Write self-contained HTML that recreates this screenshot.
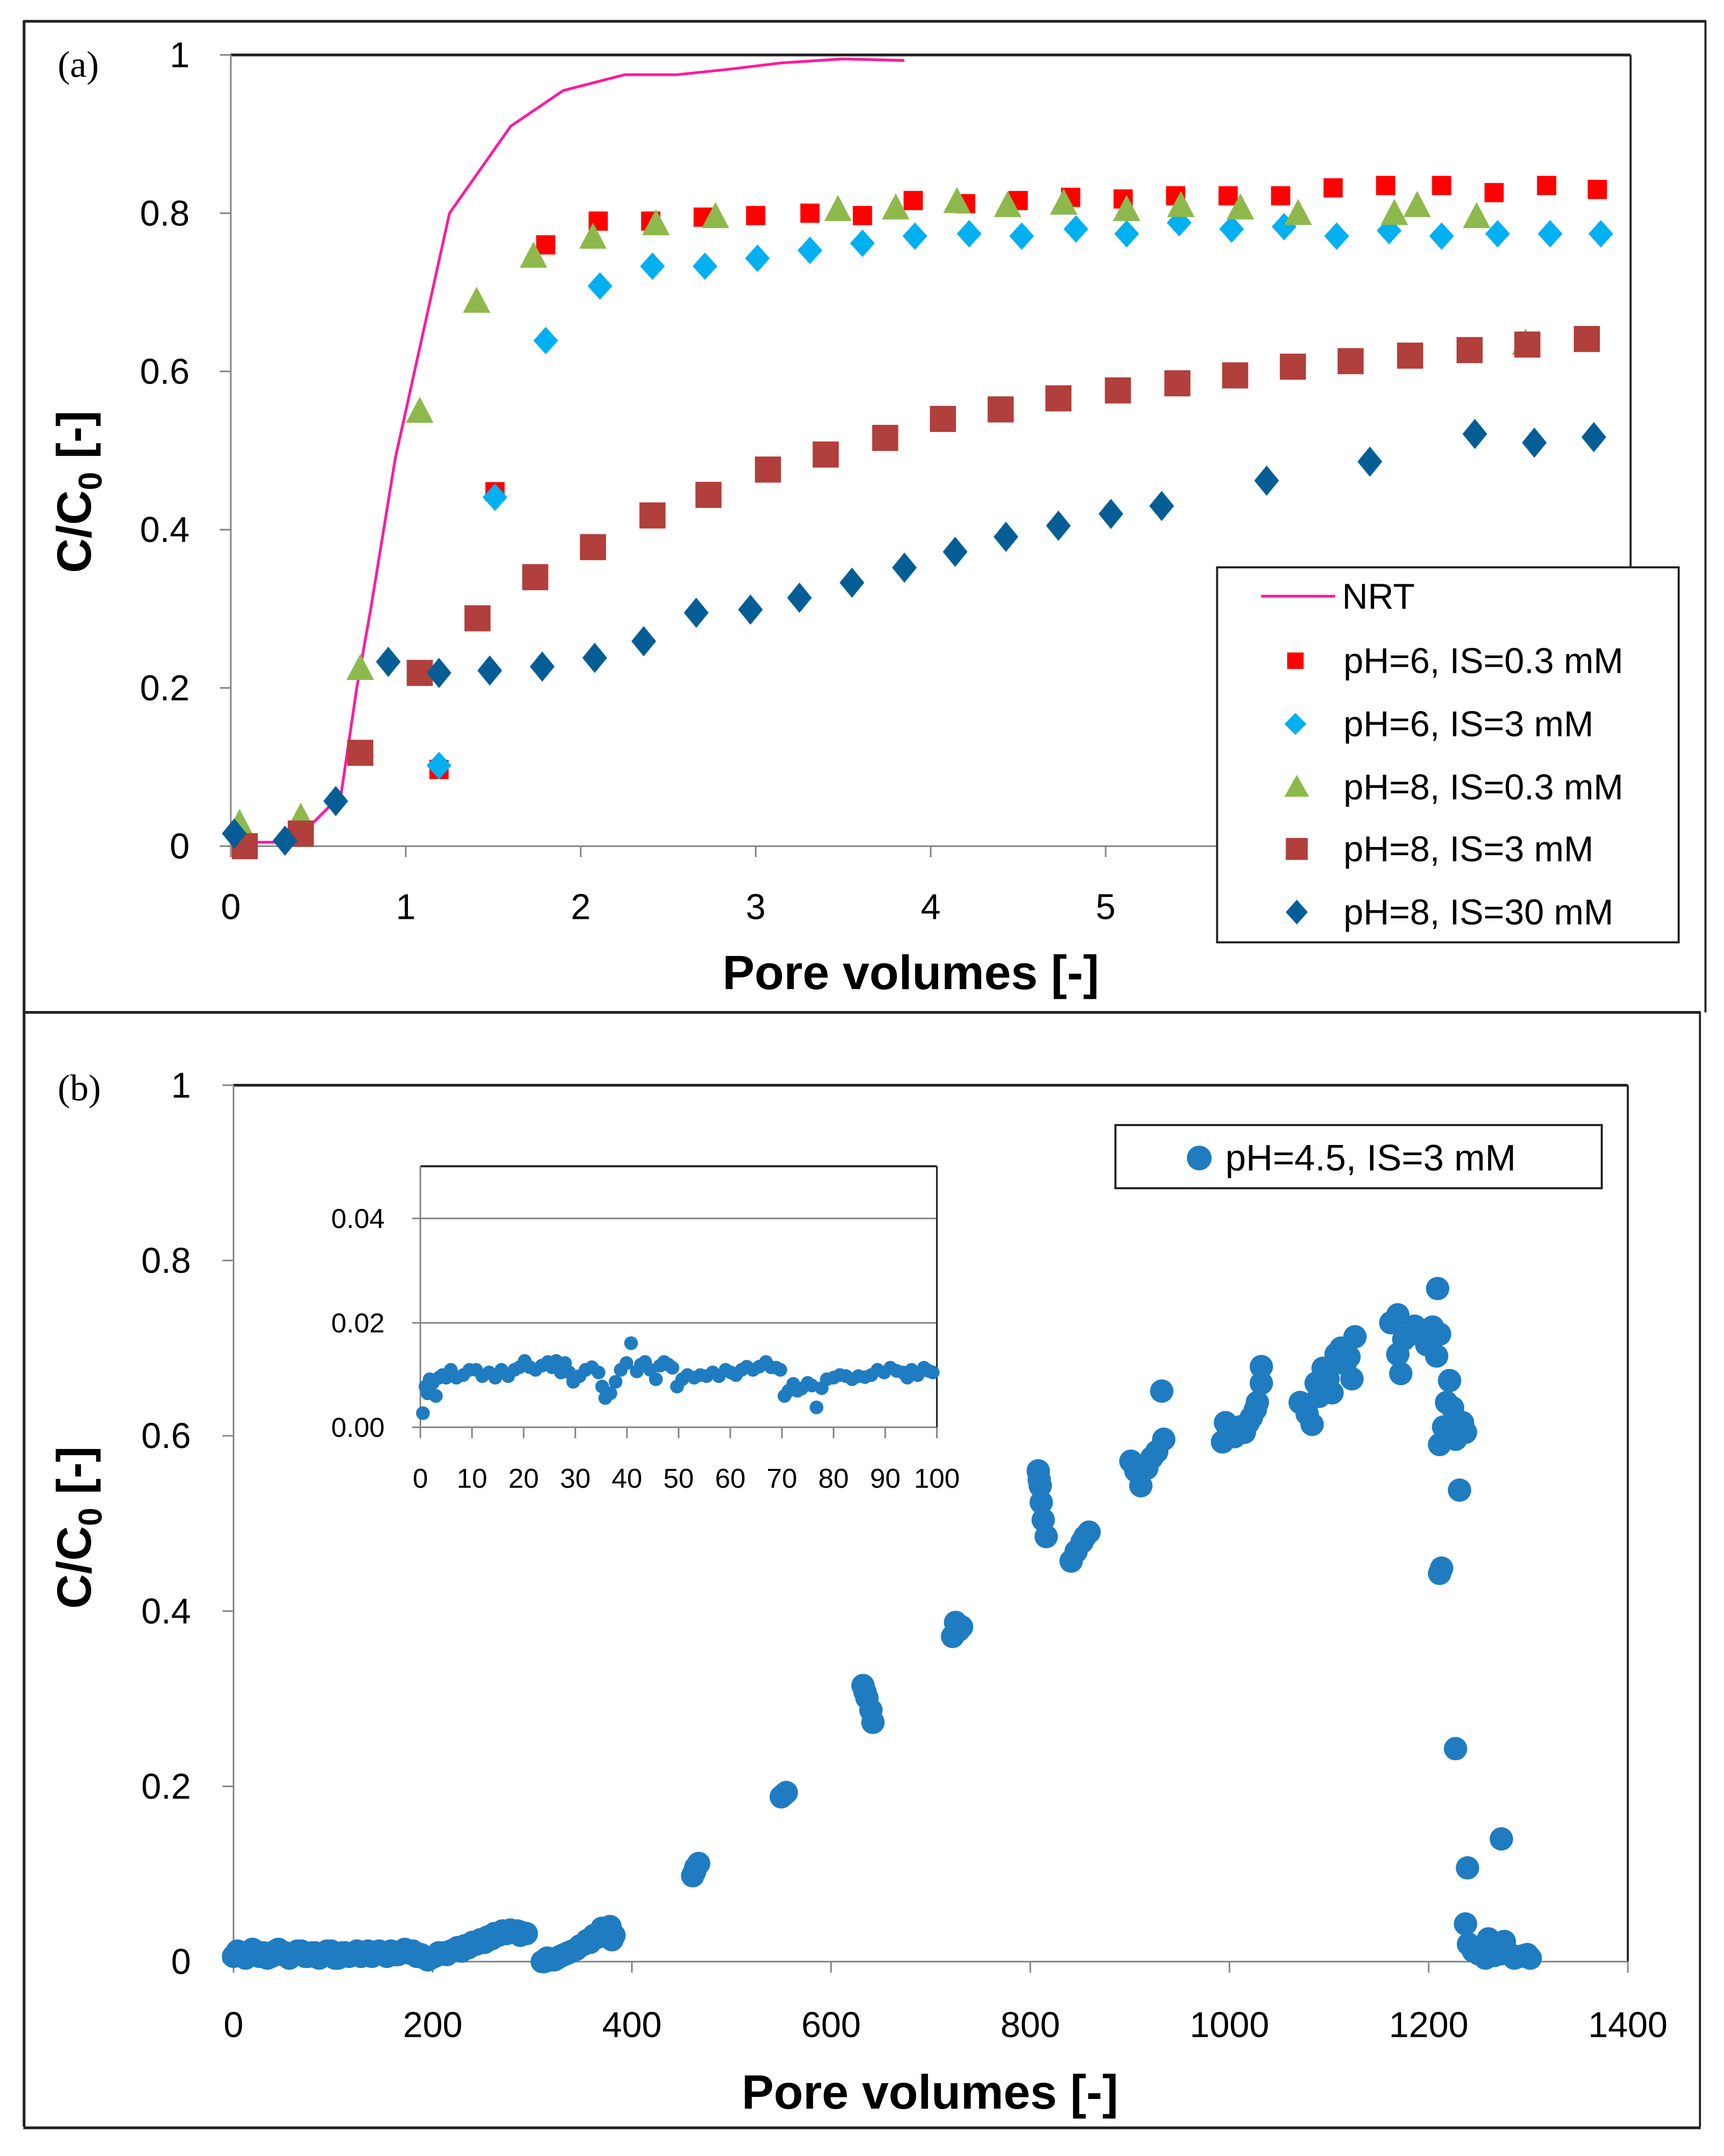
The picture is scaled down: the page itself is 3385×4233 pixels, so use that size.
<!DOCTYPE html>
<html><head><meta charset="utf-8"><style>
html,body{margin:0;padding:0;background:#fff}
svg{display:block}
text{font-family:"Liberation Sans",sans-serif;fill:#000}
</style></head><body>
<svg id="fig" width="3385" height="4233" viewBox="0 0 1255 1569.5" preserveAspectRatio="none" xmlns="http://www.w3.org/2000/svg">
<rect x="0" y="0" width="1255" height="1569.5" fill="#fff"/>
<g>
<line x1="17" y1="15.5" x2="1242" y2="15.5" stroke="#222" stroke-width="2"/>
<line x1="17.5" y1="15" x2="17.5" y2="1548" stroke="#222" stroke-width="2"/>
<line x1="1241.5" y1="15" x2="1241.5" y2="737" stroke="#222" stroke-width="1.5"/>
<line x1="17" y1="737" x2="1238" y2="737" stroke="#222" stroke-width="2"/>
<line x1="1237.5" y1="737" x2="1237.5" y2="1548" stroke="#222" stroke-width="1.5"/>
<line x1="17" y1="1549" x2="1238" y2="1549" stroke="#222" stroke-width="2"/>
</g>
<text x="42" y="56" style="font-family:'Liberation Serif',serif;font-size:27px">(a)</text>
<text x="42" y="801" style="font-family:'Liberation Serif',serif;font-size:27px">(b)</text>
<g id="pa"></g>
<g id="pb"></g>
<g id="pin"></g>
</svg>
<script>
// ---------- Panel (a) data ----------
const aXTicks = [0,1,2,3,4,5,6,7];
const aYTicks = [0,0.2,0.4,0.6,0.8,1];
const aYTickLabels = ["0","0.2","0.4","0.6","0.8","1"];
const nrtX = [0,0.3,0.45,0.63,0.72,0.8,0.94,1.05,1.25,1.6,1.9,2.25,2.55,2.85,3.15,3.5,3.85];
const nrtY = [0.005,0.005,0.025,0.065,0.2,0.3,0.49,0.6,0.8,0.91,0.955,0.975,0.975,0.982,0.99,0.995,0.993];
const ph6is03X = [1.19,1.51,1.8,2.1,2.4,2.7,3.0,3.31,3.61,3.9,4.2,4.5,4.8,5.1,5.4,5.7,6.0,6.3,6.6,6.92,7.22,7.52,7.81];
const ph6is03Y = [0.097,0.448,0.76,0.79,0.79,0.795,0.797,0.8,0.797,0.816,0.812,0.816,0.82,0.818,0.822,0.822,0.822,0.832,0.835,0.835,0.826,0.835,0.83];
const ph6is3X = [1.19,1.51,1.8,2.11,2.41,2.71,3.01,3.31,3.61,3.91,4.22,4.52,4.83,5.12,5.42,5.72,6.02,6.32,6.62,6.92,7.24,7.54,7.83];
const ph6is3Y = [0.102,0.441,0.639,0.708,0.733,0.733,0.743,0.753,0.762,0.771,0.774,0.771,0.78,0.774,0.788,0.78,0.783,0.771,0.778,0.771,0.774,0.774,0.774];
const ph8is03X = [0.05,0.4,0.74,1.08,1.405,1.73,2.07,2.43,2.77,3.47,3.8,4.15,4.44,4.76,5.12,5.43,5.77,6.1,6.65,6.78,7.12,7.4];
const ph8is03Y = [0.028,0.036,0.224,0.549,0.688,0.745,0.769,0.786,0.795,0.804,0.806,0.814,0.809,0.812,0.804,0.809,0.806,0.799,0.799,0.809,0.795,0.635];
const ph8is3X = [0.08,0.4,0.74,1.08,1.41,1.74,2.07,2.41,2.73,3.07,3.4,3.74,4.07,4.4,4.73,5.07,5.41,5.74,6.07,6.4,6.74,7.08,7.41,7.75];
const ph8is3Y = [0,0.016,0.118,0.219,0.288,0.34,0.378,0.418,0.444,0.476,0.495,0.516,0.54,0.552,0.566,0.576,0.585,0.595,0.606,0.613,0.62,0.627,0.634,0.641];
const ph8is30X = [0.02,0.31,0.6,0.9,1.19,1.48,1.78,2.08,2.36,2.66,2.97,3.25,3.55,3.85,4.14,4.43,4.73,5.03,5.32,5.92,6.51,7.11,7.45,7.79];
const ph8is30Y = [0.016,0.007,0.057,0.233,0.219,0.222,0.227,0.238,0.259,0.295,0.299,0.314,0.333,0.352,0.372,0.391,0.405,0.42,0.43,0.462,0.486,0.521,0.51,0.517];
const aLegendLabels = ["NRT","pH=6, IS=0.3 mM","pH=6, IS=3 mM","pH=8, IS=0.3 mM","pH=8, IS=3 mM","pH=8, IS=30 mM"];

// ---------- Panel (b) data ----------
const bXTicks = [0,200,400,600,800,1000,1200,1400];
const bYTicks = [0,0.2,0.4,0.6,0.8,1];
const bYTickLabels = ["0","0.2","0.4","0.6","0.8","1"];
const bX = [0,4,8,12,15,19,22,26,30,34,38,42,45,49,52,56,60,64,68,72,75,79,82,86,90,94,98,102,105,109,112,116,120,124,128,132,135,139,142,146,150,154,158,162,165,169,172,176,180,184,188,192,195,198,202,206,210,214,218,222,225,229,232,236,240,244,248,252,255,259,262,266,270,274,278,282,285,288,290,294,
 310,312,315,318,322,325,328,332,336,340,344,348,352,355,358,362,366,370,374,378,382,380,
 461,464,467,463,552,555,550,632,636,640,642,634,722,725,731,728,
 808,810,811,813,816,809,841,846,852,859,855,
 901,911,917,927,934,932,906,922,
 993,996,1005,1015,1022,1028,1032,1032,999,1010,1019,1026,
 1071,1083,1087,1094,1103,1107,1116,1123,1126,1078,1090,1099,1112,1120,
 1162,1169,1169,1172,1182,1191,1198,1204,1208,1209,1211,1175,1186,1195,
 1221,1218,1224,1211,1234,1237,1227,1215,
 1231,1211,1213,1227,1273,1239,
 1237,1240,1250,1260,1266,1276,1286,1296,1302,1257,1273,1245,1253,1263,1280,1292,1299];
const bY = [0.006,0.012,0.01,0.004,0.008,0.014,0.012,0.006,0.01,0.004,0.006,0.012,0.014,0.008,0.01,0.004,0.008,0.012,0.012,0.006,0.006,0.01,0.01,0.004,0.008,0.012,0.012,0.004,0.004,0.01,0.01,0.006,0.008,0.012,0.006,0.01,0.012,0.006,0.008,0.012,0.01,0.006,0.012,0.008,0.008,0.012,0.014,0.01,0.012,0.006,0.008,0.004,0.002,0.004,0.006,0.01,0.01,0.008,0.012,0.014,0.016,0.012,0.018,0.016,0.022,0.02,0.025,0.022,0.028,0.026,0.032,0.03,0.035,0.032,0.036,0.034,0.035,0.03,0.033,0.032,
 0.0,0.0,0.004,0.002,0.002,0.004,0.006,0.008,0.01,0.012,0.014,0.018,0.02,0.024,0.022,0.03,0.028,0.038,0.035,0.04,0.03,0.025,
 0.098,0.107,0.112,0.103,0.19,0.193,0.188,0.315,0.301,0.287,0.273,0.308,0.371,0.387,0.382,0.378,
 0.56,0.543,0.524,0.504,0.485,0.55,0.457,0.468,0.479,0.49,0.485,
 0.571,0.543,0.563,0.582,0.596,0.651,0.56,0.575,
 0.593,0.615,0.599,0.604,0.621,0.638,0.66,0.679,0.605,0.61,0.615,0.63,
 0.638,0.613,0.66,0.677,0.649,0.693,0.682,0.665,0.713,0.625,0.645,0.665,0.7,0.69,
 0.729,0.738,0.693,0.671,0.716,0.721,0.704,0.724,0.691,0.768,0.716,0.71,0.725,0.715,
 0.663,0.638,0.632,0.59,0.615,0.604,0.596,0.61,
 0.538,0.443,0.449,0.243,0.14,0.107,
 0.043,0.02,0.009,0.026,0.007,0.023,0.004,0.007,0.004,0.004,0.009,0.012,0.015,0.012,0.01,0.006,0.008];
const bLegendLabel = "pH=4.5, IS=3 mM";

// ---------- Inset data ----------
const inXTicks = [0,10,20,30,40,50,60,70,80,90,100];
const inYTicks = [0,0.02,0.04];
const inYTickLabels = ["0.00","0.02","0.04"];
const inX = [0.5,1,1.4,1.8,2.4,3,3.6,4.3,5,5.9,7,8.3,9.5,10.8,12,13.3,14.5,15.7,17,18.2,19.2,20.2,21.2,22.3,23.5,24.7,25.5,26.3,27.2,28,28.8,29.6,30.8,32,33.2,34.5,35.2,35.8,36.8,37.8,38.8,39.9,40.8,41.9,42.7,43.5,44.5,45.6,46.4,47.2,48,48.8,49.7,50.7,51.7,53,54.2,55.4,56.6,57.8,59.1,60.1,61.1,62.2,63.2,64.4,65.6,66.9,67.9,68.9,69.7,70.5,71.3,72.2,73,73.8,75,75.8,76.7,77.7,78.7,80,81.2,82.4,83.6,84.8,86.1,87.3,88.5,89.8,91,92.2,93.4,94.3,95.1,96.3,97.5,98.4,99.2];
const inY = [0.0027,0.0078,0.0065,0.0092,0.0085,0.006,0.0095,0.01,0.0095,0.011,0.0095,0.01,0.011,0.011,0.0098,0.0105,0.0095,0.011,0.0098,0.011,0.0115,0.0127,0.0115,0.011,0.0118,0.0125,0.0115,0.0127,0.0105,0.0123,0.0105,0.0087,0.0098,0.011,0.0115,0.0105,0.0078,0.0056,0.0065,0.0087,0.011,0.0123,0.0161,0.0107,0.012,0.0125,0.011,0.0092,0.0118,0.0125,0.012,0.0114,0.0078,0.0092,0.01,0.0095,0.01,0.0098,0.0105,0.0098,0.011,0.0105,0.01,0.011,0.0116,0.011,0.0116,0.0125,0.0115,0.0114,0.011,0.006,0.007,0.0083,0.007,0.0074,0.0085,0.008,0.0038,0.0075,0.0092,0.0095,0.01,0.0098,0.0092,0.0098,0.0096,0.01,0.011,0.0105,0.0114,0.0108,0.0105,0.0095,0.011,0.01,0.0114,0.0108,0.0105];

const NS="http://www.w3.org/2000/svg";
function mk(tag, attrs, parent, text){
  const e=document.createElementNS(NS,tag);
  for(const k in attrs) e.setAttribute(k,attrs[k]);
  if(text!==undefined) e.textContent=text;
  parent.appendChild(e); return e;
}

// ===== Panel A =====
(function(){
  const g=document.getElementById('pa');
  const L=168,R=1187,T=40,B=616, XMAX=8;
  const sx=v=>L+(R-L)*v/XMAX, sy=v=>B-(B-T)*v;
  let e;
  e=mk('line',{x1:L,y1:T,x2:R,y2:T,stroke:'#222','stroke-width':2},g);
   
  e=mk('line',{x1:R,y1:T,x2:R,y2:B,stroke:'#222','stroke-width':1.5},g);
   
  e=mk('line',{x1:L,y1:T,x2:L,y2:B,stroke:'#888','stroke-width':1.2},g);
   
  e=mk('line',{x1:L-8,y1:B,x2:R,y2:B,stroke:'#888','stroke-width':1.2},g);
   
  aYTicks.forEach((v,i)=>{
    let t=mk('line',{x1:L-8,y1:sy(v),x2:L,y2:sy(v),stroke:'#888','stroke-width':1.2},g);
     
    let l=mk('text',{x:138,y:sy(v)+9,'text-anchor':'end','font-size':26},g,aYTickLabels[i]);
     
  });
  aXTicks.forEach(v=>{
    let t=mk('line',{x1:sx(v),y1:B,x2:sx(v),y2:B+8,stroke:'#888','stroke-width':1.2},g);
     
    let l=mk('text',{x:sx(v),y:669,'text-anchor':'middle','font-size':26},g,String(v));
     
  });
  e=mk('text',{x:663,y:720,'text-anchor':'middle','font-size':35,'font-weight':'bold'},g,'Pore volumes [-]');
   
  e=mk('text',{x:0,y:0,'text-anchor':'middle','font-size':35,'font-weight':'bold',transform:'translate(66,358) rotate(-90)'},g);
   
  e.appendChild(document.createTextNode('C/C'));
  mk('tspan',{'font-size':24,dy:8},e,'0');
  mk('tspan',{dy:-8},e,' [-]');

  const marker=(p,x,y,kind)=>{
    let m;
    if(kind==='sqR') m=mk('rect',{x:x-7,y:y-7,width:14,height:14,fill:'#FF0000'},p);
    else if(kind==='diaC') m=mk('polygon',{points:`${x},${y-10} ${x+9},${y} ${x},${y+10} ${x-9},${y}`,fill:'#00B0F0'},p);
    else if(kind==='tri') m=mk('polygon',{points:`${x},${y-11} ${x+10},${y+8} ${x-10},${y+8}`,fill:'#8DB94C'},p);
    else if(kind==='sqB') m=mk('rect',{x:x-9.5,y:y-9.5,width:19,height:19,fill:'#B13F3B'},p);
    else m=mk('polygon',{points:`${x},${y-11} ${x+9},${y} ${x},${y+11} ${x-9},${y}`,fill:'#045E95'},p);
    return m;
  };
  let pts=nrtX.map((v,i)=>sx(v)+','+sy(nrtY[i])).join(' ');
  e=mk('polyline',{points:pts,fill:'none',stroke:'#FF1A9C','stroke-width':2},g);
   
  const series=[
    [ph6is03X,ph6is03Y,'sqR','series-ph6-is03'],
    [ph6is3X,ph6is3Y,'diaC','series-ph6-is3'],
    [ph8is03X,ph8is03Y,'tri','series-ph8-is03'],
    [ph8is3X,ph8is3Y,'sqB','series-ph8-is3'],
    [ph8is30X,ph8is30Y,'diaD','series-ph8-is30']
  ];
  series.forEach(s=>{
    const sg=mk('g',{},g);
     
    s[0].forEach((v,i)=>{
      const m=marker(sg,sx(v),sy(s[1][i]),s[2]);
       
    });
  });
  const lg=mk('g',{},g);
   
  mk('rect',{x:886,y:413,width:336,height:273,fill:'#fff',stroke:'#222','stroke-width':1.5},lg);
  const rows=[434,481,527,573,618,664];
  const kinds=['line','sqR','diaC','tri','sqB','diaD'];
  rows.forEach((ry,i)=>{
    const eg=mk('g',{},lg);
     
    if(kinds[i]==='line') mk('line',{x1:918,y1:ry,x2:972,y2:ry,stroke:'#FF1A9C','stroke-width':2},eg);
    else if(kinds[i]==='sqR') mk('rect',{x:937,y:ry-6,width:12,height:12,fill:'#FF0000'},eg);
    else if(kinds[i]==='diaC') mk('polygon',{points:`943,${ry-8} 951,${ry} 943,${ry+8} 935,${ry}`,fill:'#00B0F0'},eg);
    else if(kinds[i]==='tri') mk('polygon',{points:`944,${ry-9} 953,${ry+7} 935,${ry+7}`,fill:'#8DB94C'},eg);
    else if(kinds[i]==='sqB') mk('rect',{x:936,y:ry-8,width:16,height:16,fill:'#B13F3B'},eg);
    else mk('polygon',{points:`944,${ry-9} 952,${ry} 944,${ry+9} 936,${ry}`,fill:'#045E95'},eg);
    mk('text',{x:i===0?977:978,y:ry+9,'font-size':26},eg,aLegendLabels[i]);
  });
})();

// ===== Panel B =====
(function(){
  const g=document.getElementById('pb');
  const L=170,R=1185,T=790,B=1428, XMAX=1400;
  const sx=v=>L+(R-L)*v/XMAX, sy=v=>B-(B-T)*v;
  let e;
  e=mk('line',{x1:L,y1:T,x2:R,y2:T,stroke:'#222','stroke-width':2},g);
   
  e=mk('line',{x1:R,y1:T,x2:R,y2:B,stroke:'#222','stroke-width':1.5},g);
   
  e=mk('line',{x1:L,y1:T,x2:L,y2:B,stroke:'#888','stroke-width':1.2},g);
   
  e=mk('line',{x1:L-8,y1:B,x2:R,y2:B,stroke:'#888','stroke-width':1.2},g);
   
  bYTicks.forEach((v,i)=>{
    let t=mk('line',{x1:L-8,y1:sy(v),x2:L,y2:sy(v),stroke:'#888','stroke-width':1.2},g);
     
    let l=mk('text',{x:139,y:sy(v)+9,'text-anchor':'end','font-size':26},g,bYTickLabels[i]);
     
  });
  bXTicks.forEach(v=>{
    let t=mk('line',{x1:sx(v),y1:B,x2:sx(v),y2:B+8,stroke:'#888','stroke-width':1.2},g);
     
    let l=mk('text',{x:sx(v),y:1483,'text-anchor':'middle','font-size':26},g,String(v));
     
  });
  e=mk('text',{x:677,y:1535,'text-anchor':'middle','font-size':35,'font-weight':'bold'},g,'Pore volumes [-]');
   
  e=mk('text',{x:0,y:0,'text-anchor':'middle','font-size':35,'font-weight':'bold',transform:'translate(66,1112) rotate(-90)'},g);
   
  e.appendChild(document.createTextNode('C/C'));
  mk('tspan',{'font-size':24,dy:8},e,'0');
  mk('tspan',{dy:-8},e,' [-]');
  const sg=mk('g',{},g);
   
  bX.forEach((v,i)=>{
    const c=mk('circle',{cx:sx(v),cy:sy(bY[i]),r:8.5,fill:'#1F7CC1'},sg);
     
  });
  const lg=mk('g',{},g);
   
  mk('rect',{x:812,y:819,width:354,height:46,fill:'#fff',stroke:'#222','stroke-width':1.5},lg);
  mk('circle',{cx:873,cy:843,r:9,fill:'#1F7CC1'},lg);
  mk('text',{x:892,y:852,'font-size':27},lg,bLegendLabel);
})();

// ===== Inset =====
(function(){
  const g=document.getElementById('pin');
  const L=306,R=682,T=849,B=1039, XMAX=100, YMAX=0.05;
  const sx=v=>L+(R-L)*v/XMAX, sy=v=>B-(B-T)*v/YMAX;
  let e;
  e=mk('rect',{x:L,y:T,width:R-L,height:B-T,fill:'#fff',stroke:'none'},g);
   
  inYTicks.forEach((v,i)=>{
    let gl=mk('line',{x1:L-6,y1:sy(v),x2:R,y2:sy(v),stroke:'#888','stroke-width':1.2},g);
     
    let l=mk('text',{x:280,y:sy(v)+7,'text-anchor':'end','font-size':20},g,inYTickLabels[i]);
     
  });
  e=mk('line',{x1:L,y1:T,x2:R,y2:T,stroke:'#222','stroke-width':1.5},g);
   
  e=mk('line',{x1:R,y1:T,x2:R,y2:B,stroke:'#222','stroke-width':1.2},g);
   
  e=mk('line',{x1:L,y1:T,x2:L,y2:B,stroke:'#888','stroke-width':1.2},g);
   
  inXTicks.forEach(v=>{
    let t=mk('line',{x1:sx(v),y1:B,x2:sx(v),y2:B+8,stroke:'#888','stroke-width':1.2},g);
     
    let l=mk('text',{x:sx(v),y:1083,'text-anchor':'middle','font-size':20},g,String(v));
     
  });
  const sg=mk('g',{},g);
   
  inX.forEach((v,i)=>{
    const c=mk('circle',{cx:sx(v),cy:sy(inY[i]),r:5,fill:'#1F7CC1'},sg);
     
  });
})();
</script>
</body></html>
